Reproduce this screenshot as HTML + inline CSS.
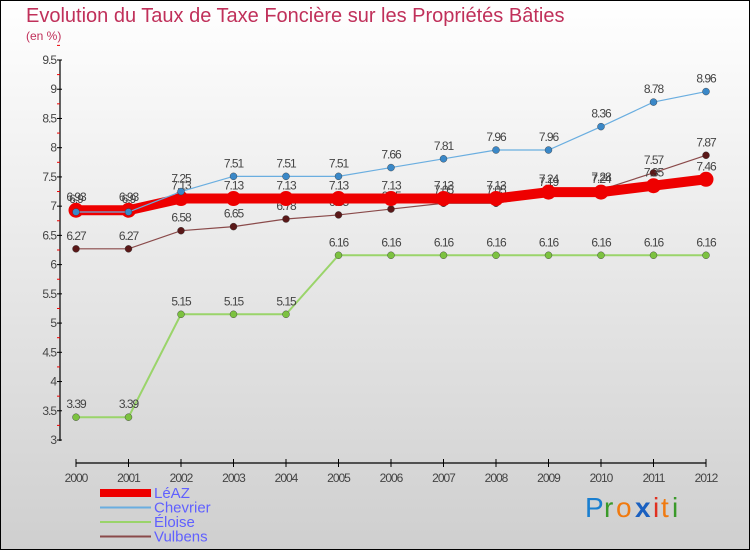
<!DOCTYPE html>
<html><head><meta charset="utf-8"><style>
body{margin:0;}
svg{display:block;font-family:"Liberation Sans",sans-serif;}
</style></head><body>
<svg width="750" height="550" viewBox="0 0 750 550">
<defs><linearGradient id="bg" x1="0" y1="0" x2="0" y2="1"><stop offset="0" stop-color="#ffffff"/><stop offset="1" stop-color="#cfcfcf"/></linearGradient></defs>
<rect x="0.5" y="0.5" width="749" height="549" fill="url(#bg)" stroke="#000"/>
<text x="26" y="22" font-size="20" fill="#c0305a">Evolution du Taux de Taxe Foncière sur les Propriétés Bâties</text>
<text x="26" y="40" font-size="12" fill="#c0305a">(en %)</text>
<g id="axes"></g><g id="series"></g><g id="legend"></g>
<g font-size="28" font-family="'Liberation Sans',sans-serif">
<text x="585" y="517" fill="#1a7fd0">P</text><text x="604" y="517" fill="#3a9a2a">r</text><text x="616" y="517" fill="#f07a10">o</text><text x="635" y="517" fill="#1a60c0" font-weight="bold">x</text><text x="653" y="517" fill="#e03020">i</text><text x="661" y="517" fill="#f07a10">t</text><text x="672" y="517" fill="#3a9a2a">i</text>
</g>
</svg>
<script>
const years=[2000,2001,2002,2003,2004,2005,2006,2007,2008,2009,2010,2011,2012];
const yTicks=[3,3.5,4,4.5,5,5.5,6,6.5,7,7.5,8,8.5,9,9.5];
const leaz=[6.93,6.93,7.13,7.13,7.13,7.13,7.13,7.13,7.13,7.24,7.24,7.35,7.46];
const chevrier=[6.9,6.9,7.25,7.51,7.51,7.51,7.66,7.81,7.96,7.96,8.36,8.78,8.96];
const eloise=[3.39,3.39,5.15,5.15,5.15,6.16,6.16,6.16,6.16,6.16,6.16,6.16,6.16];
const vulbens=[6.27,6.27,6.58,6.65,6.78,6.85,6.95,7.05,7.05,7.19,7.28,7.57,7.87];
const NS="http://www.w3.org/2000/svg";
const X=i=>76+i*52.5;
const Y=v=>440-(v-3)*(380/6.5);
function mk(tag,attrs,parent,text){const e=document.createElementNS(NS,tag);for(const k in attrs)e.setAttribute(k,attrs[k]);if(text!==undefined)e.textContent=text;parent.appendChild(e);return e;}
const axes=document.getElementById('axes');
let yl=mk('line',{x1:60,y1:60,x2:60,y2:441,stroke:'#000','stroke-width':1.2},axes);


yTicks.forEach(t=>{
 mk('line',{x1:57,y1:Y(t),x2:62,y2:Y(t),stroke:'#000'},axes);
 mk('line',{x1:57,y1:Y(t+0.25),x2:60,y2:Y(t+0.25),stroke:'#e00'},axes);
 const tx=mk('text',{x:56,y:Y(t)+4,'font-size':12,'text-anchor':'end',fill:'#444','letter-spacing':'-1'},axes,String(t));
 
 
});
let xl=mk('line',{x1:76,y1:463,x2:706,y2:463,stroke:'#000','stroke-width':1.2},axes);


years.forEach((yr,i)=>{
 mk('line',{x1:X(i),y1:459,x2:X(i),y2:467,stroke:'#000'},axes);
 const tx=mk('text',{x:X(i),y:482,'font-size':12,'text-anchor':'middle',fill:'#444','letter-spacing':'-1'},axes,String(yr));
 
 
});
const sg=document.getElementById('series');
const defs=[
 {n:'eloise',d:eloise,c:'#9ad46a',p:'#7cc240',w:2,r:3.5},
 {n:'vulbens',d:vulbens,c:'#8a4a4a',p:'#5a1818',w:1.2,r:3.5},
 {n:'leaz',d:leaz,c:'#ee0000',p:'#ee0000',w:10,r:7.5},
 {n:'chevrier',d:chevrier,c:'#6aaee0',p:'#3a88c8',w:1.2,r:3.5}
];
defs.forEach(s=>{
 const g=mk('g',{},sg);
 
 
 const pl=mk('polyline',{points:s.d.map((v,i)=>X(i)+','+Y(v)).join(' '),fill:'none',stroke:s.c,'stroke-width':s.w},g);
 
 
 s.d.forEach((v,i)=>{
  const c=mk('circle',{cx:X(i),cy:Y(v),r:s.r,fill:s.p,stroke:s.w>5?'none':'#333','stroke-width':0.4},g);
  
  
  const t=mk('text',{x:X(i),y:Y(v)-9,'font-size':12,'text-anchor':'middle',fill:'#444','letter-spacing':'-1'},g,String(v));
  
  
 });
});
const lg=document.getElementById('legend');
const legs=[['LéAZ','#ee0000',8],['Chevrier','#6aaee0',2],['Éloise','#9ad46a',2],['Vulbens','#8a4a4a',2]];
legs.forEach((l,i)=>{
 const y=493+i*14.5;
 const g=mk('g',{},lg);
 
 
 mk('line',{x1:100,y1:y,x2:151,y2:y,stroke:l[1],'stroke-width':l[2]},g);
 mk('text',{x:154,y:y+5,'font-size':15,fill:'#6060ff'},g,l[0]);
});
</script>
</body></html>
